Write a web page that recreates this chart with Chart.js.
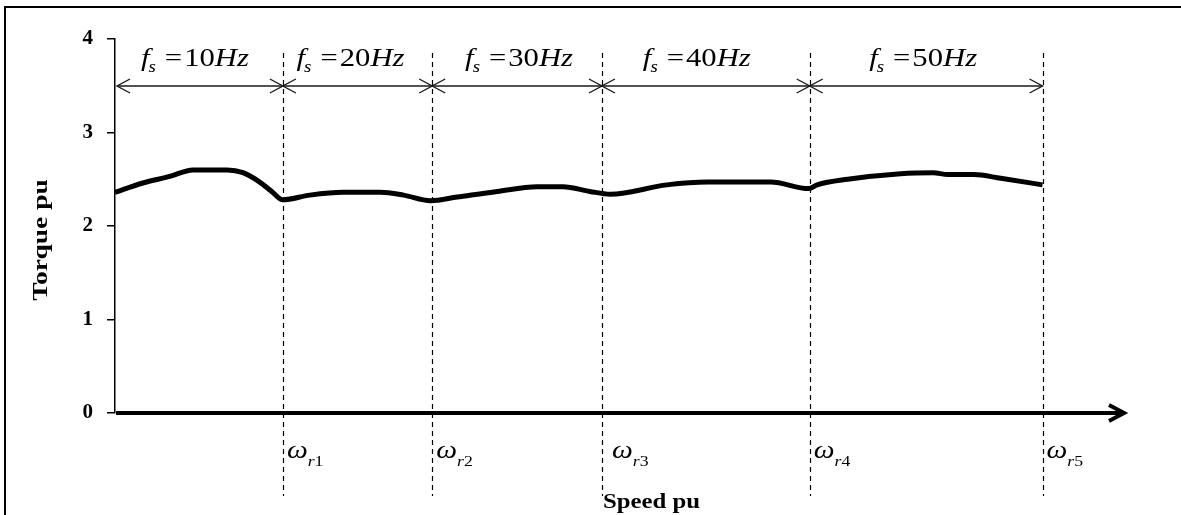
<!DOCTYPE html>
<html>
<head>
<meta charset="utf-8">
<script src="https://cdn.jsdelivr.net/npm/chart.js@4.4.1/dist/chart.umd.min.js"></script>
<style>
    html, body { margin: 0; padding: 0; background: #fff; }
    canvas { display: block; }
</style>
</head>
<body>
<canvas id="torque-chart" width="1181" height="515"></canvas>
<script>
    // Torque-speed curve (speed normalised so that wr5 = 1)
    const speed = [0, 0.030, 0.059, 0.084, 0.121, 0.138, 0.156, 0.170, 0.178, 0.181,
        0.210, 0.246, 0.286, 0.311, 0.340, 0.369, 0.412, 0.455, 0.483, 0.512, 0.534,
        0.595, 0.639, 0.707, 0.748, 0.757, 0.790, 0.847, 0.882, 0.898, 0.926, 0.955, 1.0];
    const torque = [2.36, 2.46, 2.53, 2.60, 2.60, 2.57, 2.47, 2.36, 2.29, 2.28,
        2.33, 2.36, 2.36, 2.33, 2.27, 2.31, 2.37, 2.42, 2.42, 2.37, 2.34,
        2.44, 2.47, 2.47, 2.40, 2.44, 2.50, 2.56, 2.57, 2.55, 2.55, 2.51, 2.44];

    // Switching speeds and supply frequencies
    const omegaSpeeds = [0.181, 0.342, 0.525, 0.749, 1.0];
    const omegaIndex = ["1", "2", "3", "4", "5"];
    const fsValues = ["10", "20", "30", "40", "50"];

    const yMin = 0, yMax = 4, yStep = 1;
    const xMax = 1.09;

    const SERIF = '"Liberation Serif", "Times New Roman", serif';
    const SX = 1.18;   // the original lettering is a little wider than Times
    const fsShift = [-5, -7, 2, -9, -3];

    function arrowHead(ctx, x, y, dir, len, half) {
        ctx.beginPath();
        ctx.moveTo(x - dir * len, y - half);
        ctx.lineTo(x, y);
        ctx.lineTo(x - dir * len, y + half);
        ctx.stroke();
    }

    // draw text stretched along its baseline, returns advance width
    function put(ctx, font, text, x, y) {
        ctx.font = font;
        ctx.save();
        ctx.translate(x, y);
        ctx.scale(SX, 1);
        ctx.fillText(text, 0, 0);
        ctx.restore();
        return ctx.measureText(text).width * SX;
    }

    function width(ctx, font, text) {
        ctx.font = font;
        return ctx.measureText(text).width * SX;
    }

    function drawFs(ctx, cx, base, num) {
        const big = "italic 26px " + SERIF;
        const sub = "italic 16px " + SERIF;
        const up = "26px " + SERIF;
        const total = width(ctx, big, "f") - 1 + width(ctx, sub, "s") + 9 +
            width(ctx, up, "=") + 2 + width(ctx, up, num) + width(ctx, big, "Hz");
        let x = cx - total / 2;
        ctx.textAlign = "left";
        ctx.textBaseline = "alphabetic";
        x += put(ctx, big, "f", x, base) - 1;
        x += put(ctx, sub, "s", x, base + 6) + 9;
        x += put(ctx, up, "=", x, base) + 2;
        x += put(ctx, up, num, x, base);
        put(ctx, big, "Hz", x, base);
    }

    function drawOmega(ctx, x, base, idx) {
        ctx.textAlign = "left";
        ctx.textBaseline = "alphabetic";
        x += put(ctx, "italic 25px " + SERIF, "\u03C9", x, base);
        x += put(ctx, "italic 15px " + SERIF, "r", x, base + 8);
        put(ctx, "15px " + SERIF, idx, x, base + 8);
    }

    const decor = {
        id: "decor",
        beforeDatasetsDraw(chart) {
            const ctx = chart.ctx;
            const xs = chart.scales.x, ys = chart.scales.y;
            const area = chart.chartArea;
            ctx.save();
            ctx.strokeStyle = "#000";

            // outer frame (top and left edges)
            ctx.lineWidth = 2;
            ctx.beginPath();
            ctx.moveTo(5, 515);
            ctx.lineTo(5, 7);
            ctx.lineTo(1181, 7);
            ctx.stroke();

            // dashed switching lines
            ctx.lineWidth = 1.2;
            ctx.setLineDash([5, 4]);
            omegaSpeeds.forEach(function (s) {
                const px = Math.round(xs.getPixelForValue(s)) + 0.5;
                ctx.beginPath();
                ctx.moveTo(px, 53);
                ctx.lineTo(px, 496);
                ctx.stroke();
            });
            ctx.setLineDash([]);

            // thick speed axis with arrow
            const y0 = ys.getPixelForValue(0);
            const tip = area.right - 2;
            ctx.lineWidth = 4;
            ctx.beginPath();
            ctx.moveTo(area.left + 1, y0);
            ctx.lineTo(tip - 2, y0);
            ctx.stroke();
            arrowHead(ctx, tip, y0, 1, 15, 8);
            ctx.restore();
        },
        afterDraw(chart) {
            const ctx = chart.ctx;
            const xs = chart.scales.x;
            ctx.save();
            ctx.fillStyle = "#000";
            ctx.strokeStyle = "#1a1a1a";

            // frequency ranges with double arrows
            const bounds = [0].concat(omegaSpeeds).map(function (s) { return xs.getPixelForValue(s); });
            const ay = 86;
            ctx.lineWidth = 1.4;
            for (let i = 0; i < fsValues.length; i++) {
                const a = bounds[i] + (i === 0 ? 2 : 0), b = bounds[i + 1];
                ctx.beginPath();
                ctx.moveTo(a, ay);
                ctx.lineTo(b, ay);
                ctx.stroke();
                arrowHead(ctx, a, ay, -1, 13, 7);
                arrowHead(ctx, b, ay, 1, 13, 7);
                drawFs(ctx, (a + b) / 2 + fsShift[i], 66, fsValues[i]);
            }

            // omega labels next to each dashed line
            omegaSpeeds.forEach(function (s, i) {
                const px = xs.getPixelForValue(s);
                drawOmega(ctx, px + (i === 2 ? 10 : 4), 458, omegaIndex[i]);
            });

            // axis titles
            ctx.textAlign = "left";
            ctx.textBaseline = "alphabetic";
            put(ctx, "bold 21px " + SERIF, "Speed pu", 603, 508);

            ctx.translate(47, 240);
            ctx.rotate(-Math.PI / 2);
            ctx.scale(1.25, 1);
            ctx.textAlign = "center";
            ctx.font = "bold 22px " + SERIF;
            ctx.fillText("Torque pu", 0, 0);
            ctx.restore();
        }
    };

    new Chart(document.getElementById("torque-chart"), {
        type: "line",
        data: {
            datasets: [{
                label: "Torque",
                data: speed.map(function (s, i) { return { x: s, y: torque[i] }; }),
                borderColor: "#000",
                borderWidth: 5,
                pointRadius: 0,
                fill: false,
                cubicInterpolationMode: "monotone",
                clip: false
            }]
        },
        options: {
            responsive: false,
            devicePixelRatio: 1,
            animation: false,
            layout: { padding: { left: 5, right: 55, top: 39, bottom: 102 } },
            plugins: {
                legend: { display: false },
                tooltip: { enabled: false }
            },
            scales: {
                x: { type: "linear", min: 0, max: xMax, display: false },
                y: {
                    min: yMin,
                    max: yMax,
                    afterFit: function (s) { s.width = 110; },
                    ticks: {
                        stepSize: yStep,
                        color: "#000",
                        padding: 14,
                        font: { family: SERIF, size: 21, weight: "bold" }
                    },
                    grid: { drawOnChartArea: false, tickLength: 8, color: "#000", lineWidth: 1.5 },
                    border: { color: "#000", width: 1.5 }
                }
            }
        },
        plugins: [decor]
    });
</script>
</body>
</html>
